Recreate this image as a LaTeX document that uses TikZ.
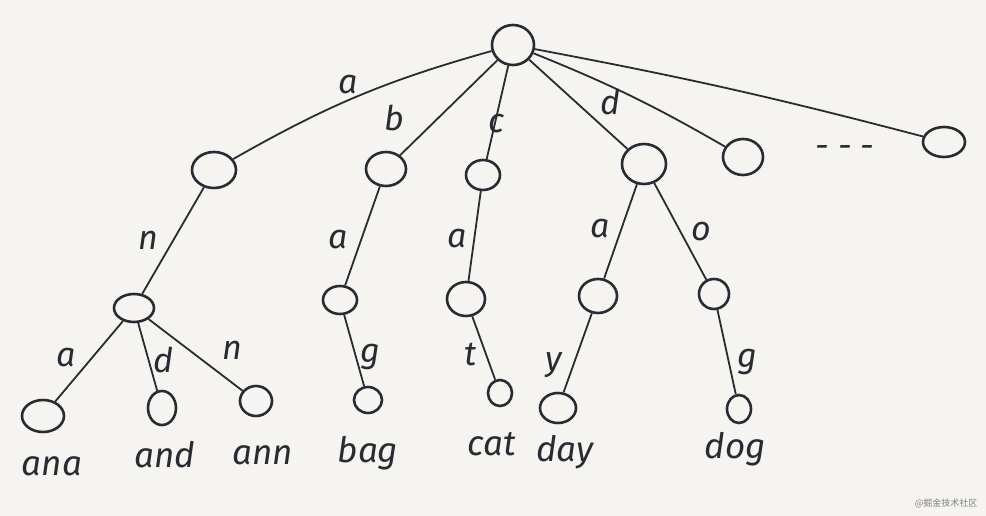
\documentclass[tikz,border=0pt]{standalone}
\usepackage{fontspec}
\setmainfont{Fira Sans}
\newfontfamily\cjk{Noto Sans CJK SC}
\usepackage{tikz}
\usetikzlibrary{shapes.geometric, positioning}
\definecolor{ink}{HTML}{2B2A33}
\definecolor{paper}{HTML}{F5F4F1}
\tikzset{
    trie/.style 2 args={draw=ink, line width=2.6pt, ellipse, inner sep=0pt, minimum width=#1pt, minimum height=#2pt},
    edge/.style={draw=ink, line width=1.8pt},
    letter/.style={text=ink, font=\fontsize{34}{34}\selectfont\itshape, inner sep=0pt},
    word/.style={text=ink, font=\fontsize{35}{35}\selectfont\itshape, inner sep=0pt},
    credit/.style={text=gray, font=\cjk\fontsize{9}{9}\selectfont, inner sep=0pt}
}
\begin{document}
\begin{tikzpicture}[x=1pt, y=-1pt]
    \useasboundingbox[fill=paper] (0,0) rectangle (986,516);

    \node [trie={42}{40}] (root) at (513,45) {};
    \node [trie={44}{36}] (a) at (214,170) {};
    \node [trie={40}{34}] (b) at (386,169) {};
    \node [trie={34}{30}] (c) at (483,175) {};
    \node [trie={44}{40}] (d) at (644,164) {};
    \node [trie={40}{36}] (e) at (743,157) {};
    \node [trie={42}{30}] (z) at (944,142) {};
    \node [letter] (dots) at (845,152) {- - -};

    \node [trie={40}{28}] (an) at (134,308) {};
    \node [trie={34}{28}] (ba) at (340,300) {};
    \node [trie={38}{34}] (ca) at (466,299) {};
    \node [trie={38}{34}] (da) at (598,296) {};
    \node [trie={30}{30}] (do) at (714,294) {};

    \node [trie={42}{32}] (ana) at (43,416) {};
    \node [trie={28}{34}] (and) at (162,408) {};
    \node [trie={32}{30}] (ann) at (256,401) {};
    \node [trie={28}{26}] (bag) at (368,400) {};
    \node [trie={24}{26}] (cat) at (500,393) {};
    \node [trie={36}{30}] (day) at (558,408) {};
    \node [trie={24}{28}] (dog) at (739,409) {};

    \draw [edge] (a) to [bend left=7] (root);
    \draw [edge] (b) -- (root);
    \draw [edge] (c) -- (root);
    \draw [edge] (root) -- (d);
    \draw [edge] (root) to [bend left=4] (e);
    \draw [edge] (root) to [bend left=2] (z);

    \draw [edge] (a) -- (an);
    \draw [edge] (b) -- (ba);
    \draw [edge] (c) -- (ca);
    \draw [edge] (d) -- (da);
    \draw [edge] (d) -- (do);

    \draw [edge] (an) -- (ana);
    \draw [edge] (an) -- (and);
    \draw [edge] (an) -- (ann);
    \draw [edge] (ba) -- (bag);
    \draw [edge] (ca) -- (cat);
    \draw [edge] (da) -- (day);
    \draw [edge] (do) -- (dog);

    \node [letter] (la) at (348,85) {a};
    \node [letter] (lb) at (394,118) {b};
    \node [letter] (lc) at (497,124) {c};
    \node [letter] (ld) at (610,102) {d};
    \node [letter] (lan) at (148,240) {n};
    \node [letter] (lba) at (338,240) {a};
    \node [letter] (lca) at (457,239) {a};
    \node [letter] (lda) at (600,229) {a};
    \node [letter] (ldo) at (701,232) {o};
    \node [letter] (lana) at (66,358) {a};
    \node [letter] (land) at (163,360) {d};
    \node [letter] (lann) at (232,350) {n};
    \node [letter] (lbag) at (370,357) {g};
    \node [letter] (lcat) at (471,355) {t};
    \node [letter] (lday) at (554,365) {y};
    \node [letter] (ldog) at (747,362) {g};

    \node [word] (wana) at (52,466) {ana};
    \node [word] (wand) at (165,455) {and};
    \node [word] (wann) at (263,455) {ann};
    \node [word] (wbag) at (368,453) {bag};
    \node [word] (wcat) at (492,444) {cat};
    \node [word] (wday) at (565,452) {day};
    \node [word] (wdog) at (735,449) {dog};

    \node [credit] (source) at (946,503) {@掘金技术社区};
\end{tikzpicture}
\end{document}
